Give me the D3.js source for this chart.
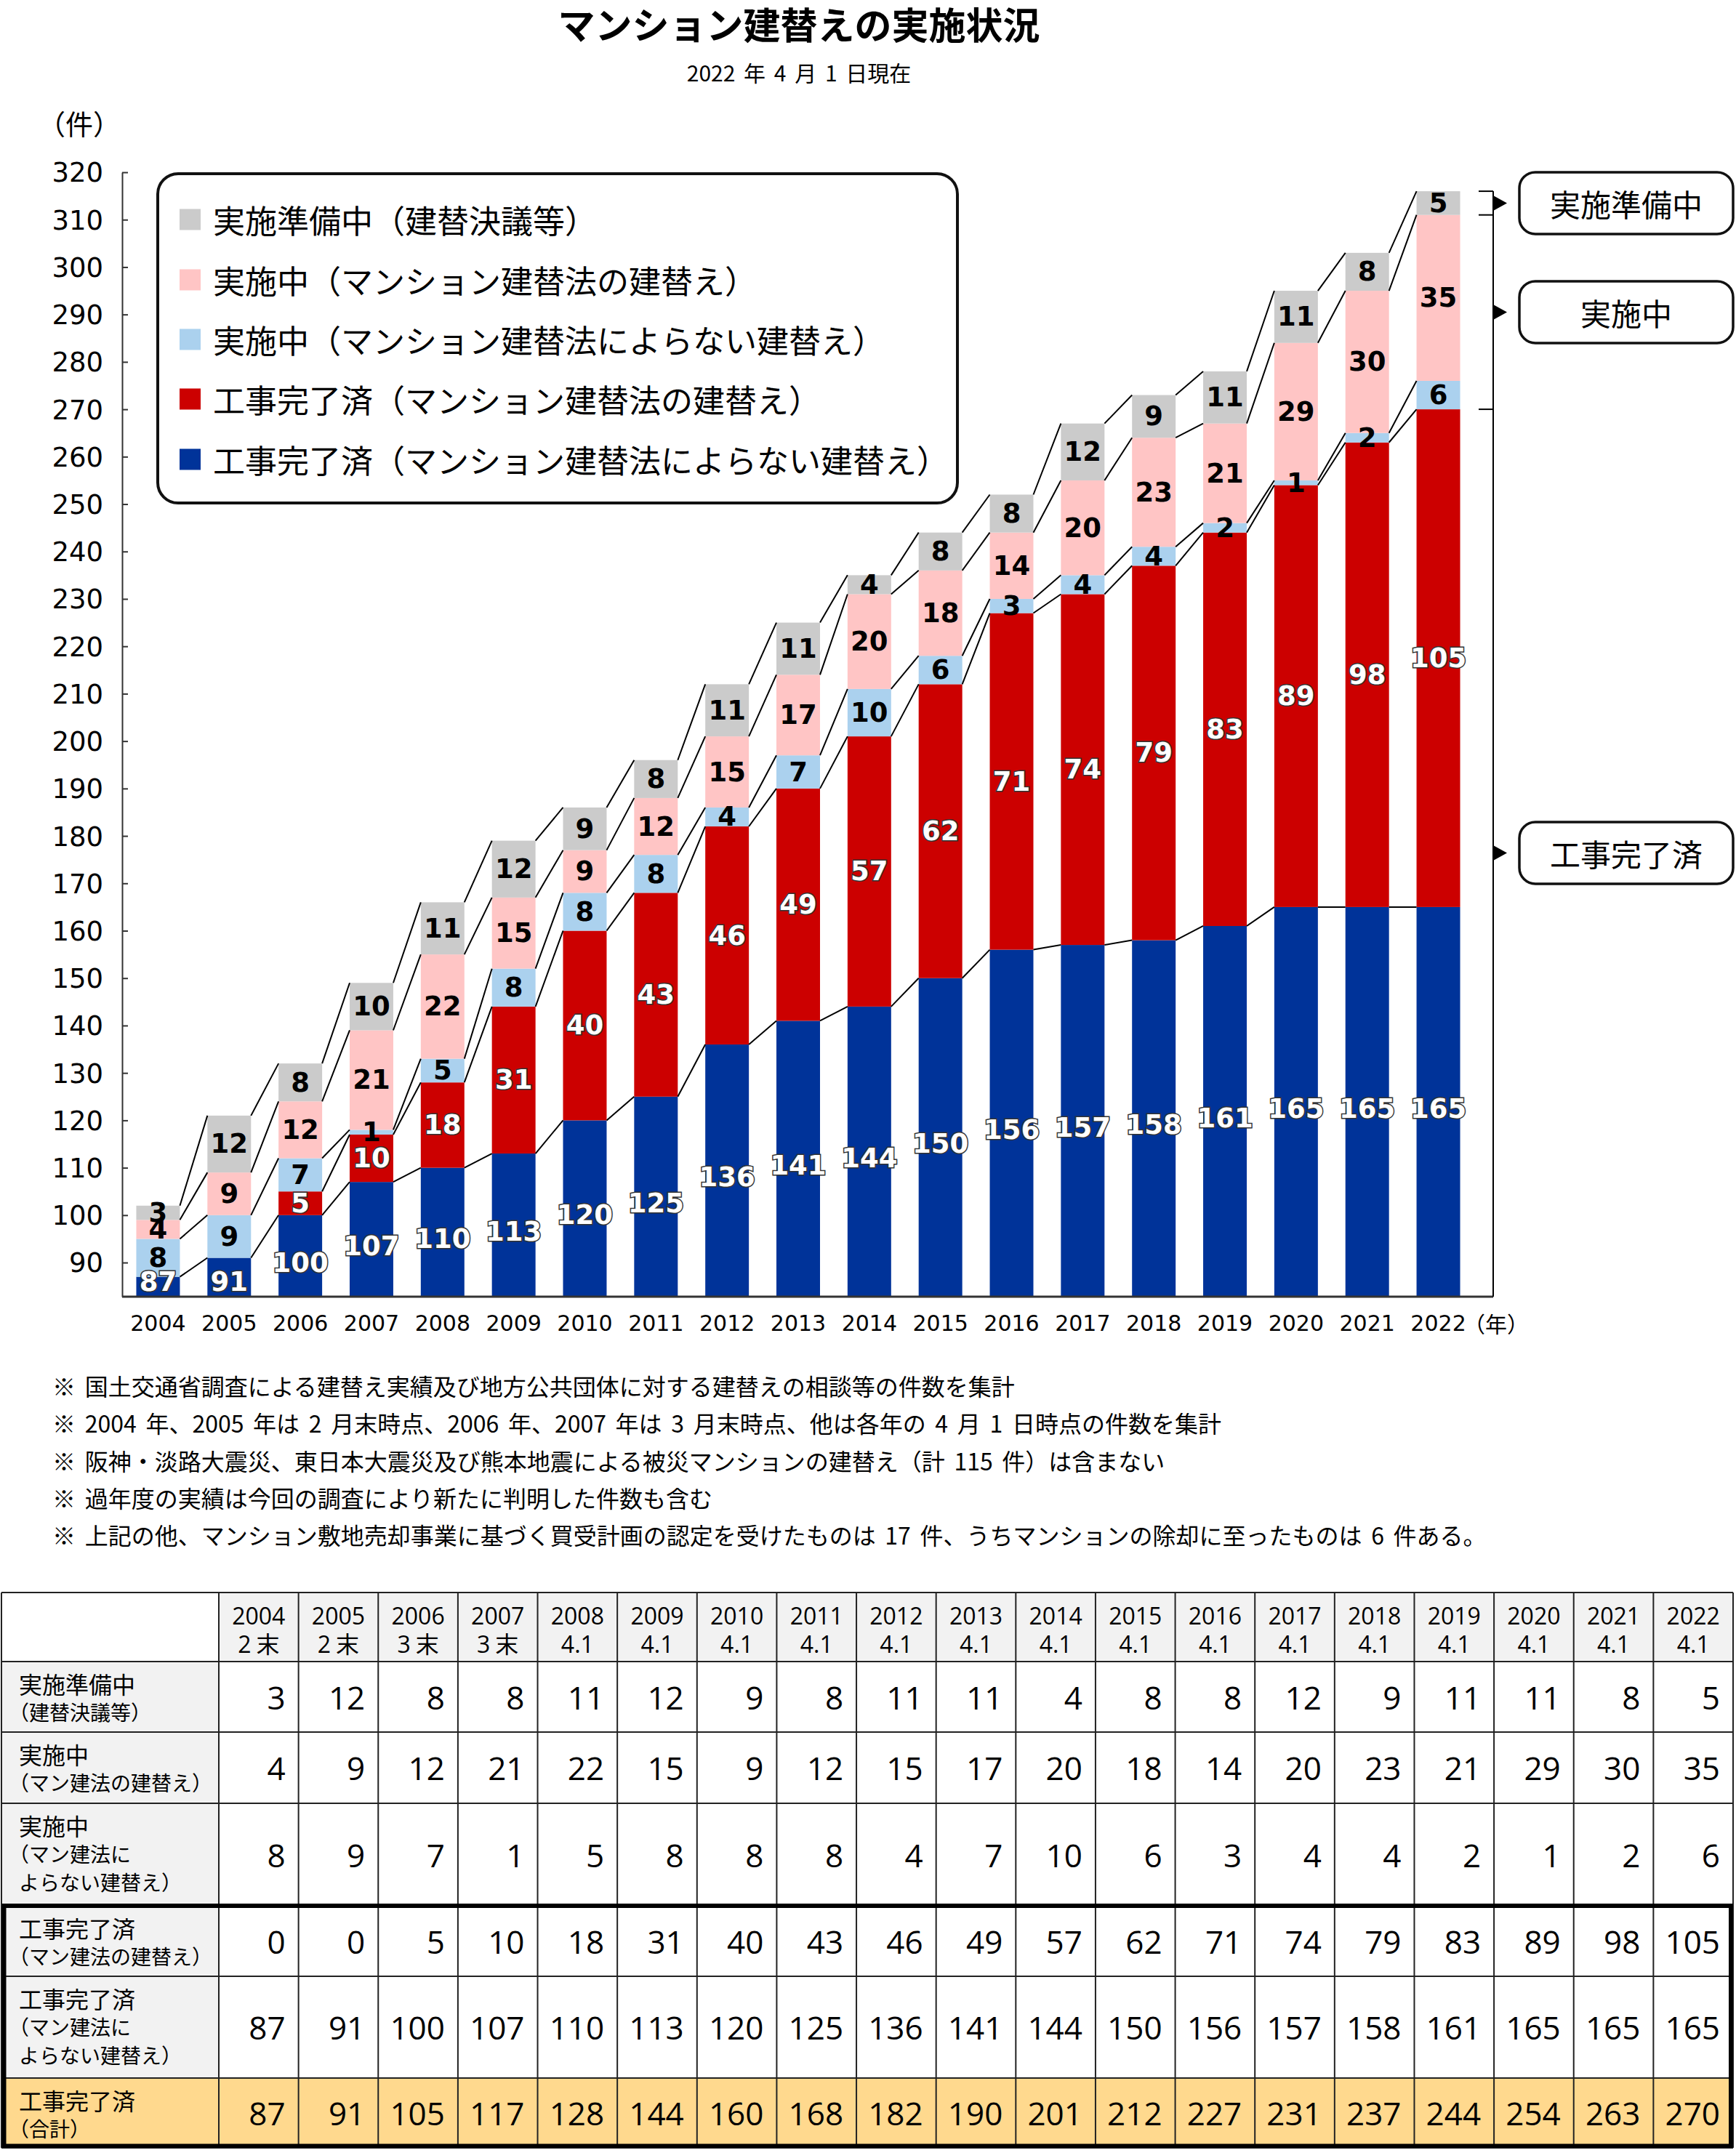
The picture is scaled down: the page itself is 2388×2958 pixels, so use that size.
<!DOCTYPE html>
<html lang="ja">
<head>
<meta charset="utf-8">
<title>マンション建替えの実施状況</title>
<script src="https://cdn.jsdelivr.net/npm/d3@7/dist/d3.min.js"></script>
<style>
  html, body { margin: 0; padding: 0; background: #ffffff; }
  svg { display: block; }
</style>
</head>
<body>
<svg id="chart" width="2388" height="2958" xmlns="http://www.w3.org/2000/svg"></svg>
<script>
// ---------------- data ----------------
const years = ["2004","2005","2006","2007","2008","2009","2010","2011","2012","2013","2014","2015","2016","2017","2018","2019","2020","2021","2022"];
const asOf = ["2末","2末","3末","3末","4.1","4.1","4.1","4.1","4.1","4.1","4.1","4.1","4.1","4.1","4.1","4.1","4.1","4.1","4.1"];
// chart values (as drawn in the bar chart)
const prepChart     = [3,12,8,10,11,12,9,8,11,11,4,8,8,12,9,11,11,8,5];
// table values
const prep          = [3,12,8,8,11,12,9,8,11,11,4,8,8,12,9,11,11,8,5];
const ongoingLaw    = [4,9,12,21,22,15,9,12,15,17,20,18,14,20,23,21,29,30,35];
const ongoingNonLaw = [8,9,7,1,5,8,8,8,4,7,10,6,3,4,4,2,1,2,6];
const doneLaw       = [0,0,5,10,18,31,40,43,46,49,57,62,71,74,79,83,89,98,105];
const doneNonLaw    = [87,91,100,107,110,113,120,125,136,141,144,150,156,157,158,161,165,165,165];
const doneTotal     = [87,91,105,117,128,144,160,168,182,190,201,212,227,231,237,244,254,263,270];
const yTicks = [90,100,110,120,130,140,150,160,170,180,190,200,210,220,230,240,250,260,270,280,290,300,310,320];

const seriesKeys  = ["doneNonLaw","doneLaw","ongoingNonLaw","ongoingLaw","prep"];
const seriesNames = ["工事完了済（マンション建替法によらない建替え）","工事完了済（マンション建替法の建替え）","実施中（マンション建替法によらない建替え）","実施中（マンション建替法の建替え）","実施準備中（建替決議等）"];
const groupNames  = ["実施準備中","実施中","工事完了済"];

const titleText = "マンション建替えの実施状況";
const subtitleText = "2022 年 4 月 1 日現在";
const yUnit = "（件）";
const xUnit = "（年）";
const notes = [
  "※ 国土交通省調査による建替え実績及び地方公共団体に対する建替えの相談等の件数を集計",
  "※ 2004 年、2005 年は 2 月末時点、2006 年、2007 年は 3 月末時点、他は各年の 4 月 1 日時点の件数を集計",
  "※ 阪神・淡路大震災、東日本大震災及び熊本地震による被災マンションの建替え（計 115 件）は含まない",
  "※ 過年度の実績は今回の調査により新たに判明した件数も含む",
  "※ 上記の他、マンション敷地売却事業に基づく買受計画の認定を受けたものは 17 件、うちマンションの除却に至ったものは 6 件ある。"
];
const rowLabels = [
  ["実施準備中","（建替決議等）"],
  ["実施中","（マン建法の建替え）"],
  ["実施中","（マン建法に","よらない建替え）"],
  ["工事完了済","（マン建法の建替え）"],
  ["工事完了済","（マン建法に","よらない建替え）"],
  ["工事完了済","（合計）"]
];
const rowValues = [prep, ongoingLaw, ongoingNonLaw, doneLaw, doneNonLaw, doneTotal];

// ---------------- styles ----------------
const seriesColors = ["#003399","#cc0000","#abd1ee","#ffc5c5","#cbcbcb"];
const NUM = "'DejaVu Sans', 'Noto Sans CJK JP', sans-serif";
const TNUM = "'Open Sans', 'Noto Sans CJK JP', sans-serif";
const JP  = "'Noto Sans CJK JP', sans-serif";

const svg = d3.select("#chart");

// ---------------- title ----------------
svg.append("text").attr("x", 1099).attr("y", 32)
  .attr("text-anchor","middle").attr("dominant-baseline","central")
  .style("font-family", JP).style("font-weight", 700).style("font-size","51px")
  .text(titleText);
svg.append("text").attr("x", 1099).attr("y", 99)
  .attr("text-anchor","middle").attr("dominant-baseline","central")
  .style("font-family", JP).style("font-size","30px").style("word-spacing","5px")
  .text(subtitleText);

// ---------------- scales ----------------
const yMin = 82.8;
const labelFloor = 80;
const x = d3.scaleBand().domain(years).range([168, 2028]).paddingInner(0.387).paddingOuter(0.199);
const y = d3.scaleLinear().domain([yMin, 320]).range([1784, 237]);

const rows = years.map((yr, i) => ({year: yr, doneNonLaw: doneNonLaw[i], doneLaw: doneLaw[i],
  ongoingNonLaw: ongoingNonLaw[i], ongoingLaw: ongoingLaw[i], prep: prepChart[i]}));
const stacked = d3.stack().keys(seriesKeys)(rows);

// y unit
svg.append("text").attr("x", 52).attr("y", 168).attr("dominant-baseline","central")
  .style("font-family", JP).style("font-size","38px").text(yUnit);

// y axis
const yAxisG = svg.append("g").attr("transform","translate(168,0)")
  .call(d3.axisLeft(y).tickValues(yTicks).tickSizeInner(-8).tickSizeOuter(0).tickPadding(26));
yAxisG.select(".domain").attr("stroke","#333").attr("stroke-width",2);
yAxisG.selectAll(".tick line").attr("stroke","#333").attr("stroke-width",2);
yAxisG.selectAll("text").style("font-family", NUM).style("font-size","37px").attr("fill","#000")
  .attr("dy","0.35em");

// legend box
const legendG = svg.append("g");
legendG.append("rect").attr("x",217).attr("y",239).attr("width",1100).attr("height",453)
  .attr("rx",28).attr("fill","#fff").attr("stroke","#111").attr("stroke-width",4);
const legendOrder = [4,3,2,1,0];
const legendY = [302, 385, 467, 549, 632];
legendOrder.forEach((si, k) => {
  legendG.append("rect").attr("x",247).attr("y",legendY[k]-14.5).attr("width",29).attr("height",29)
    .attr("fill", seriesColors[si]);
  legendG.append("text").attr("x",293).attr("y",legendY[k]).attr("dominant-baseline","central")
    .style("font-family", JP).style("font-size","44px").text(seriesNames[si]);
});

// bars
const barsG = svg.append("g");
stacked.forEach((layer, si) => {
  barsG.selectAll(null).data(layer).join("rect")
    .attr("x", d => x(d.data.year))
    .attr("width", x.bandwidth())
    .attr("y", d => y(d[1]))
    .attr("height", d => Math.max(0, y(Math.max(d[0], yMin)) - y(d[1])))
    .attr("fill", seriesColors[si]);
});

// connector lines
const linesG = svg.append("g").attr("stroke","#000").attr("stroke-width",2);
stacked.forEach(layer => {
  const key = layer.key;
  for (let i = 0; i < layer.length - 1; i++) {
    const a = layer[i], b = layer[i+1];
    if (a.data[key] > 0 && b.data[key] > 0) {
      linesG.append("line")
        .attr("x1", x(a.data.year) + x.bandwidth()).attr("y1", y(a[1]))
        .attr("x2", x(b.data.year)).attr("y2", y(b[1]));
    }
  }
});

// x axis
svg.append("line").attr("x1",168).attr("x2",2054).attr("y1",y(yMin)).attr("y2",y(yMin))
  .attr("stroke","#333").attr("stroke-width",3);
const xAxisG = svg.append("g").attr("transform",`translate(0,${y(yMin)})`)
  .call(d3.axisBottom(x).tickSize(0));
xAxisG.select(".domain").remove();
xAxisG.selectAll("text").attr("y",36).attr("dy","0.35em")
  .style("font-family", NUM).style("font-size","30px").attr("fill","#000");
svg.append("text").attr("x", 2013).attr("y", y(yMin)+36).attr("dominant-baseline","central")
  .style("font-family", JP).style("font-size","30px").text(xUnit);

// bar value labels
const labelsG = svg.append("g");
stacked.forEach((layer, si) => {
  const light = si >= 2;
  labelsG.selectAll(null).data(layer.filter(d => d.data[layer.key] > 0)).join("text")
    .attr("x", d => x(d.data.year) + x.bandwidth()/2)
    .attr("y", d => Math.min(y((Math.max(d[0], labelFloor) + d[1]) / 2), y(yMin) - 21))
    .attr("text-anchor","middle").attr("dominant-baseline","central")
    .style("font-family", NUM).style("font-weight", 700).style("font-size","37px")
    .attr("fill", light ? "#000" : "#fff")
    .attr("stroke", light ? "none" : "#333").attr("stroke-width", light ? 0 : 3)
    .style("paint-order","stroke")
    .text(d => d.data[layer.key]);
});

// right bracket + annotation boxes
const lastIdx = years.length - 1;
const lastTop = stacked[4][lastIdx][1];
const prepBottom = stacked[4][lastIdx][0];
const ongoingBottom = stacked[2][lastIdx][0];
const bx = 2054;
const brG = svg.append("g").attr("stroke","#000").attr("stroke-width",2);
brG.append("line").attr("x1",bx).attr("x2",bx).attr("y1",y(lastTop)).attr("y2",y(yMin));
[lastTop, prepBottom, ongoingBottom].forEach(v => {
  brG.append("line").attr("x1",2034).attr("x2",bx).attr("y1",y(v)).attr("y2",y(v));
});
const groupMids = [(y(lastTop)+y(prepBottom))/2, (y(prepBottom)+y(ongoingBottom))/2, (y(ongoingBottom)+y(yMin))/2];
groupMids.forEach((my, k) => {
  svg.append("path").attr("d", `M${bx},${my-10.5} L${bx+19},${my} L${bx},${my+10.5} Z`).attr("fill","#000");
  svg.append("rect").attr("x",2090).attr("y",my-42.5).attr("width",294).attr("height",85)
    .attr("rx",22).attr("fill","#fff").attr("stroke","#111").attr("stroke-width",3.5);
  svg.append("text").attr("x",2237).attr("y",my).attr("text-anchor","middle").attr("dominant-baseline","central")
    .style("font-family", JP).style("font-size","42px").text(groupNames[k]);
});

// notes
notes.forEach((t, i) => {
  svg.append("text").attr("x",72).attr("y",1906 + i*51.3).attr("dominant-baseline","central")
    .style("font-family", JP).style("font-size","32px").style("word-spacing","5.5px").text(t);
});

// ---------------- table ----------------
const tG = svg.append("g");
const tLeft = 2, tLabelRight = 301, tRight = 2384;
const rowEdges = [2191, 2286, 2383, 2481, 2622, 2719, 2859, 2955];
const col = d3.scaleBand().domain(years).range([tLabelRight, tRight]);
const rowFills = ["#ffffff","#ffffff","#ffffff","#ffffff","#ffffff","#ffd98e"];
const labelFills = ["#f2f2f2","#f2f2f2","#f2f2f2","#f2f2f2","#f2f2f2","#ffd98e"];

// header
tG.append("rect").attr("x",tLeft).attr("y",rowEdges[0]).attr("width",tLabelRight-tLeft).attr("height",rowEdges[1]-rowEdges[0]).attr("fill","#fff");
tG.selectAll(null).data(years).join("rect")
  .attr("x", d => col(d)).attr("y", rowEdges[0]).attr("width", col.bandwidth()).attr("height", rowEdges[1]-rowEdges[0])
  .attr("fill","#f2f2f2");
years.forEach((yr, i) => {
  const cx = col(yr) + col.bandwidth()/2;
  tG.append("text").attr("x",cx).attr("y",2222).attr("text-anchor","middle").attr("dominant-baseline","central")
    .style("font-family", TNUM).style("font-size","32px").text(yr);
  const sub = asOf[i];
  const t2 = tG.append("text").attr("x",cx).attr("y",2261).attr("text-anchor","middle").attr("dominant-baseline","central")
    .style("font-family", TNUM).style("font-size","32px").text(sub);
  if (sub.endsWith("末")) t2.style("letter-spacing","7px").attr("x", cx + 3.5);
});

// body rows
rowValues.forEach((vals, r) => {
  const top = rowEdges[r+1], bot = rowEdges[r+2];
  tG.append("rect").attr("x",tLeft).attr("y",top).attr("width",tLabelRight-tLeft).attr("height",bot-top).attr("fill",labelFills[r]);
  tG.selectAll(null).data(years).join("rect")
    .attr("x", d => col(d)).attr("y", top).attr("width", col.bandwidth()).attr("height", bot-top)
    .attr("fill", rowFills[r]);
  rowLabels[r].forEach((ln, k) => {
    const fs = k === 0 ? 32 : 28;
    const startsParen = ln.startsWith("（");
    tG.append("text").attr("x", 26 - (startsParen ? fs*0.5 : 0)).attr("y", top + 30 + 39*k)
      .attr("dominant-baseline","central")
      .style("font-family", JP).style("font-size", fs + "px").text(ln);
  });
  vals.forEach((v, i) => {
    tG.append("text").attr("x", col(years[i]) + col.bandwidth() - 18).attr("y", (top+bot)/2)
      .attr("text-anchor","end").attr("dominant-baseline","central")
      .style("font-family", TNUM).style("font-size","44px").text(v);
  });
});

// grid lines
const gridG = tG.append("g").attr("stroke","#222").attr("stroke-width",2);
rowEdges.forEach(e => gridG.append("line").attr("x1",tLeft).attr("x2",tRight).attr("y1",e).attr("y2",e));
[tLeft, tLabelRight, ...years.map(d => col(d) + col.bandwidth())].forEach(cx =>
  gridG.append("line").attr("x1",cx).attr("x2",cx).attr("y1",rowEdges[0]).attr("y2",rowEdges[rowEdges.length-1]));
tG.append("rect").attr("x",5.5).attr("y",rowEdges[4]).attr("width",tRight-5.5-3).attr("height",rowEdges[7]-rowEdges[4]-2.5)
  .attr("fill","none").attr("stroke","#000").attr("stroke-width",6);
</script>
</body>
</html>
